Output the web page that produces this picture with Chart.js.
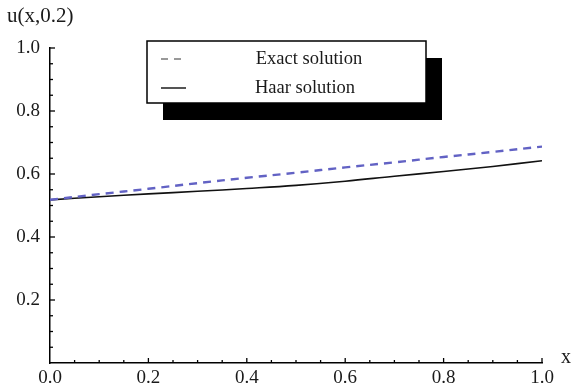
<!DOCTYPE html>
<html><head><meta charset="utf-8">
<script src="https://cdn.jsdelivr.net/npm/chart.js@4"></script>
<style>html,body{margin:0;padding:0;background:#fff}#wrap{width:578px;height:391px}</style>
</head><body><div id="wrap"><canvas id="c" width="578" height="391"></canvas></div>
<script>
const xValues = [0.0, 0.1, 0.2, 0.3, 0.4, 0.5, 0.6, 0.7, 0.8, 0.9, 1.0];
const exactValues = [0.518, 0.536, 0.553, 0.571, 0.588, 0.604, 0.621, 0.637, 0.654, 0.670, 0.687];
const haarValues = [0.518, 0.528, 0.537, 0.545, 0.554, 0.564, 0.577, 0.593, 0.608, 0.624, 0.642];
const seriesNames = ['Exact solution', 'Haar solution'];
const yAxisTitle = 'u(x,0.2)';
const xAxisTitle = 'x';

const FONT = '"Liberation Serif", "Times New Roman", serif';

const decor = {
  id: 'decor',
  afterDraw(chart) {
    const ctx = chart.ctx, xs = chart.scales.x, ys = chart.scales.y;
    ctx.save();
    ctx.strokeStyle = '#000'; ctx.lineWidth = 1.3;
    for (let i = 1; i <= 20; i++) {
      const v = i * 0.05, px = xs.getPixelForValue(v);
      const len = (i % 4 === 0) ? 5 : 3;
      ctx.beginPath(); ctx.moveTo(px, ys.bottom); ctx.lineTo(px, ys.bottom - len); ctx.stroke();
    }
    for (let i = 1; i <= 20; i++) {
      const v = i * 0.05, py = ys.getPixelForValue(v);
      const len = (i % 4 === 0) ? 5 : 3;
      ctx.beginPath(); ctx.moveTo(xs.left, py); ctx.lineTo(xs.left + len, py); ctx.stroke();
    }
    ctx.fillStyle = '#1a1a1a';
    ctx.font = '21px ' + FONT;
    ctx.textAlign = 'left'; ctx.textBaseline = 'middle';
    ctx.fillText(yAxisTitle, 7, 16);
    ctx.font = '20px ' + FONT;
    ctx.fillText(xAxisTitle, 561, 358);
    const bx = 147, by = 41, bw = 279, bh = 62;
    ctx.fillStyle = '#000';
    ctx.fillRect(bx + 16, by + 17, bw, bh);
    ctx.fillStyle = '#fff';
    ctx.fillRect(bx, by, bw, bh);
    ctx.strokeStyle = '#000'; ctx.lineWidth = 1.5;
    ctx.strokeRect(bx, by, bw, bh);
    ctx.lineWidth = 2;
    ctx.strokeStyle = '#999';
    ctx.setLineDash([7, 6]);
    ctx.beginPath(); ctx.moveTo(161, 59); ctx.lineTo(185, 59); ctx.stroke();
    ctx.setLineDash([]);
    ctx.strokeStyle = '#555';
    ctx.beginPath(); ctx.moveTo(161, 88); ctx.lineTo(186, 88); ctx.stroke();
    ctx.fillStyle = '#1a1a1a';
    ctx.font = '18.5px ' + FONT;
    ctx.textAlign = 'center';
    ctx.fillText(seriesNames[0], 309, 59);
    ctx.fillText(seriesNames[1], 305, 88);
    ctx.restore();
  }
};

new Chart(document.getElementById('c'), {
  type: 'line',
  data: {
    labels: xValues,
    datasets: [
      { label: seriesNames[0], data: xValues.map((x, i) => ({x, y: exactValues[i]})),
        borderColor: '#6262c4', borderWidth: 2.4, borderDash: [8, 6], pointRadius: 0, tension: 0.4, fill: false },
      { label: seriesNames[1], data: xValues.map((x, i) => ({x, y: haarValues[i]})),
        borderColor: '#111', borderWidth: 1.6, pointRadius: 0, tension: 0.4, fill: false }
    ]
  },
  plugins: [decor],
  options: {
    responsive: false, animation: false,
    layout: { padding: { top: 48, right: 36, left: 0, bottom: 0 } },
    plugins: { legend: { display: false }, tooltip: { enabled: false } },
    scales: {
      x: { type: 'linear', min: 0, max: 1,
        afterFit(s) { s.height = 28; },
        grid: { display: false, drawTicks: false },
        border: { display: true, color: '#000', width: 1.5 },
        ticks: { stepSize: 0.2, padding: 4, color: '#1a1a1a', font: { family: FONT, size: 19 },
          callback: v => Number(v).toFixed(1), maxRotation: 0, autoSkip: false }
      },
      y: { min: 0, max: 1,
        afterFit(s) { s.width = 50; },
        grid: { display: false, drawTicks: false },
        border: { display: true, color: '#000', width: 1.5 },
        ticks: { stepSize: 0.2, padding: 10, color: '#1a1a1a', font: { family: FONT, size: 19 },
          callback: v => v === 0 ? '' : Number(v).toFixed(1) }
      }
    }
  }
});
</script></body></html>
